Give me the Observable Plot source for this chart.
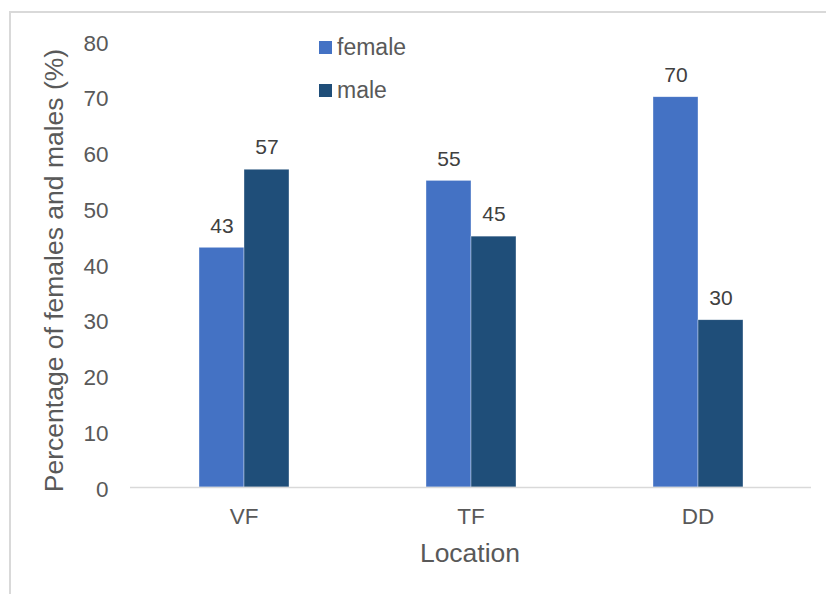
<!DOCTYPE html>
<html>
<head>
<meta charset="utf-8">
<script src="https://cdn.jsdelivr.net/npm/d3@7"></script>
<script src="https://cdn.jsdelivr.net/npm/@observablehq/plot@0.6"></script>
<style>
  html, body { margin: 0; padding: 0; background: #fff; }
  #wrap { position: relative; width: 826px; height: 594px; overflow: hidden; }
  #border { position: absolute; left: 9px; top: 11px; width: 840px; height: 600px;
            border: 2px solid #d9d9d9; box-sizing: border-box; }
  #chart { position: absolute; left: 0; top: 0; }
  #legend { position: absolute; left: 319px; top: 31px; font: 23px "Liberation Sans", Arial, sans-serif; color: #595959; }
  #legend .item { display: flex; align-items: center; height: 32px; margin-bottom: 11px; }
  #legend .sw { width: 13px; height: 13px; margin-right: 5px; }
</style>
</head>
<body>
<div id="wrap">
  <div id="border"></div>
  <div id="chart"></div>
  <div id="legend"></div>
</div>
<script>
// Share of females and males by location
const locations = ["VF", "TF", "DD"];
const sexes = ["female", "male"];
const femaleValues = [43, 55, 70];
const maleValues = [57, 45, 30];
const yTicks = [0, 10, 20, 30, 40, 50, 60, 70, 80];
const colors = ["#4472c4", "#1f4e79"];

const rows = locations.flatMap((loc, i) => [
  {location: loc, sex: "female", value: femaleValues[i]},
  {location: loc, sex: "male", value: maleValues[i]}
]);

const font = "'Liberation Sans', Arial, sans-serif";

const chart = Plot.plot({
  width: 826,
  height: 594,
  marginLeft: 130,
  marginRight: 15,
  marginTop: 41,
  marginBottom: 107,
  style: {fontFamily: font, background: "transparent"},
  fx: {domain: locations, padding: 0},
  x: {domain: sexes, paddingInner: 0, paddingOuter: 1.4945, axis: null},
  y: {domain: [0, 80]},
  color: {domain: sexes, range: colors},
  marks: [
    Plot.axisY({ticks: yTicks, tickSize: 0, tickPadding: 22, fontSize: 22.5, fill: "#595959", label: null, dy: 2}),
    Plot.axisFx({anchor: "bottom", tickSize: 0, tickPadding: 21, fontSize: 22.5, fill: "#595959", label: null}),
    Plot.barY(rows, {fx: "location", x: "sex", y: "value", fill: "sex", stroke: "#ffffff", strokeWidth: 0.6, strokeOpacity: 0.6}),
    Plot.ruleY([0], {stroke: "#d9d9d9", strokeWidth: 1.5}),
    Plot.text(rows, {fx: "location", x: "sex", y: "value", text: d => String(d.value), dy: -22, fontSize: 21, fill: "#404040"})
  ]
});
document.getElementById("chart").append(chart);

// axis titles, placed once over the whole frame
const svg = d3.select(chart);
svg.append("text")
  .attr("transform", "translate(54.5,270.5) rotate(-90)")
  .attr("text-anchor", "middle")
  .attr("dy", "0.32em")
  .attr("font-size", 26.5)
  .attr("fill", "#595959")
  .text("Percentage of females and males (%)");
svg.append("text")
  .attr("x", 470)
  .attr("y", 553.5)
  .attr("text-anchor", "middle")
  .attr("dy", "0.32em")
  .attr("font-size", 26.5)
  .attr("fill", "#595959")
  .text("Location");

// legend
const legend = d3.select("#legend");
sexes.forEach((s, i) => {
  const item = legend.append("div").attr("class", "item");
  item.append("div").attr("class", "sw").style("background", colors[i]);
  item.append("span").text(s);
});
</script>
</body>
</html>
